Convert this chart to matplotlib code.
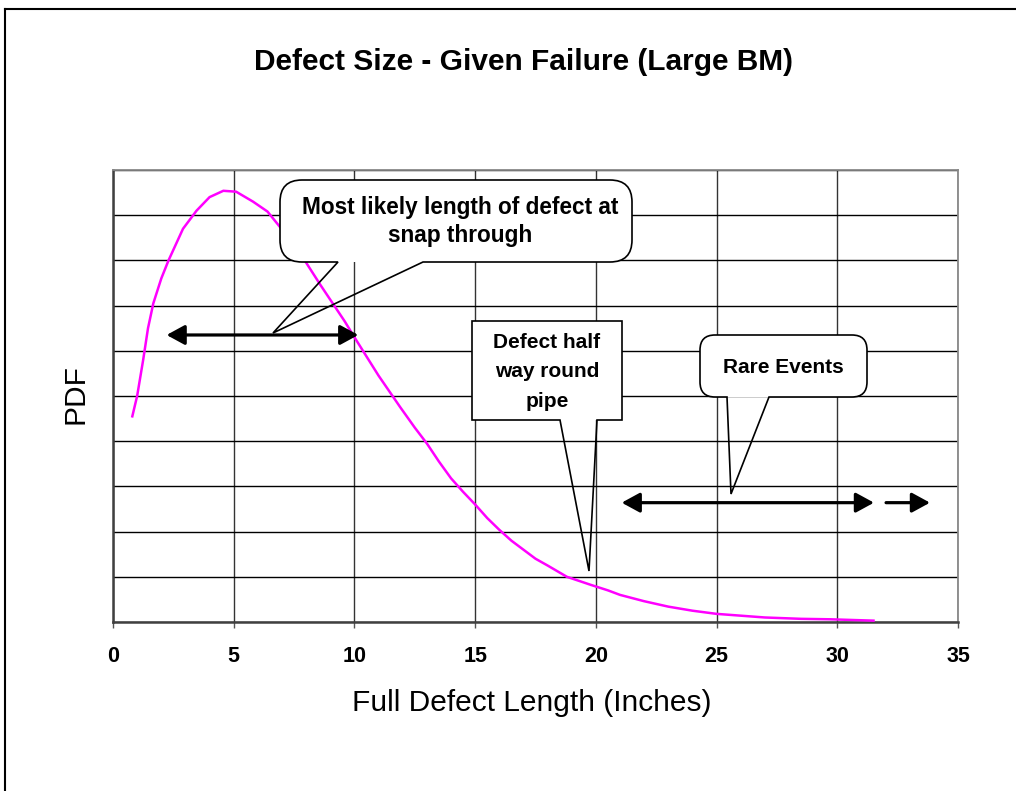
import matplotlib
matplotlib.use('Agg')
import matplotlib.pyplot as plt
import matplotlib.transforms as mtransforms
from matplotlib.path import Path
from matplotlib.patches import PathPatch
from matplotlib.lines import Line2D

plt.rcParams['font.family'] = ['Liberation Sans', 'DejaVu Sans']

# ---------------- data ----------------
defect_length = [0.8, 1.0, 1.25, 1.45, 1.67, 2.0, 2.3, 2.9, 3.46, 4.0, 4.57,
                 5.1, 5.8, 6.4, 6.9, 7.5, 8.0, 8.6, 9.1, 9.6, 10.0, 11.0,
                 11.9, 12.5, 13.0, 13.5, 14.0, 14.5, 15.0, 15.5, 16.0, 16.5,
                 17.0, 17.5, 18.0, 18.8, 19.8, 20.5, 21.0, 22.0, 23.0, 24.0,
                 25.0, 26.0, 27.0, 28.5, 29.7, 31.5]
pdf_values = [4.55, 5.0, 5.8, 6.5, 7.05, 7.6, 8.0, 8.7, 9.1, 9.4, 9.54,
              9.52, 9.3, 9.08, 8.75, 8.35, 7.95, 7.45, 7.05, 6.65, 6.3, 5.45,
              4.75, 4.3, 3.95, 3.55, 3.18, 2.88, 2.6, 2.3, 2.04, 1.8,
              1.6, 1.4, 1.25, 1.0, 0.82, 0.7, 0.6, 0.46, 0.34, 0.25,
              0.18, 0.14, 0.1, 0.07, 0.06, 0.03]
x_ticks = [0, 5, 10, 15, 20, 25, 30, 35]
x_tick_labels = ['0', '5', '10', '15', '20', '25', '30', '35']
y_grid = [0, 1, 2, 3, 4, 5, 6, 7, 8, 9, 10]

title = 'Defect Size - Given Failure (Large BM)'
x_label = 'Full Defect Length (Inches)'
y_label = 'PDF'
callout1_lines = ['Most likely length of defect at', 'snap through']
callout2_lines = ['Defect half', 'way round', 'pipe']
callout3_lines = ['Rare Events']
range_likely = (2.22, 10.16, 6.35)
range_rare = (21.07, 31.52, 2.64)
range_beyond = (32.02, 33.84, 2.64)

# ---------------- figure ----------------
W, H = 1016, 791
fig = plt.figure(figsize=(W / 100, H / 100), dpi=100)
fig.patch.set_facecolor('white')

ax = fig.add_axes([113 / W, 1 - 622 / H, 845 / W, 452 / H])
ax.plot(defect_length, pdf_values, color='#FF00FF', lw=1.8, zorder=3,
        solid_joinstyle='round')
ax.set_xlim(0, 35)
ax.set_ylim(0, 10)
ax.set_xticks(x_ticks)
ax.set_xticklabels(x_tick_labels, fontsize=15.5, fontweight='bold')
ax.set_yticks(y_grid)
ax.set_yticklabels([])
ax.tick_params(axis='y', length=0)
ax.tick_params(axis='x', direction='out', length=4, width=1, color='#555555', pad=13.5)
ax.set_axisbelow(True)
ax.yaxis.grid(True, color='black', lw=1.0)
ax.xaxis.grid(True, color='#333333', lw=1.0)
for s in ['left', 'bottom']:
    ax.spines[s].set_color('#404040')
    ax.spines[s].set_linewidth(1.8)
for s in ['top', 'right']:
    ax.spines[s].set_color('#888888')
    ax.spines[s].set_linewidth(1.3)

# arrows (data coords)
def darrow(x0, x1, y, style):
    ax.annotate('', xy=(x1, y), xytext=(x0, y),
                arrowprops=dict(arrowstyle=style + ',head_length=11,head_width=6',
                                mutation_scale=1, lw=2.3, color='black',
                                shrinkA=0, shrinkB=0),
                zorder=4, annotation_clip=False)

darrow(range_likely[0], range_likely[1], range_likely[2], '<|-|>')
darrow(range_rare[0], range_rare[1], range_rare[2], '<|-|>')
darrow(range_beyond[0], range_beyond[1], range_beyond[2], '-|>')

# ---------------- text ----------------
tr = mtransforms.Affine2D().scale(1, -1).translate(0, H)


def ptext(x, y, s, **kw):
    fig.text(x, y, s, transform=tr, **kw)


ptext(524, 70, title, fontsize=21.5, fontweight='bold', ha='center', va='baseline')
ptext(532, 711, x_label, fontsize=21.5, ha='center', va='baseline')
ptext(84, 394.5, y_label, fontsize=21.5, ha='center', va='baseline',
      rotation=90, rotation_mode='anchor')

# ---------------- callouts ----------------
def callout_paths(x0, y0, x1, y1, r, ba, bb, tip):
    """Return (box path, outline-with-tail path) in image pixel coords."""
    def box_verts(with_tail):
        v, c = [], []
        v += [(x0 + r, y0)]; c += [Path.MOVETO]
        v += [(x1 - r, y0)]; c += [Path.LINETO]
        if r > 0:
            v += [(x1, y0), (x1, y0 + r)]; c += [Path.CURVE3, Path.CURVE3]
        v += [(x1, y1 - r)]; c += [Path.LINETO]
        if r > 0:
            v += [(x1, y1), (x1 - r, y1)]; c += [Path.CURVE3, Path.CURVE3]
        if with_tail:
            v += [(bb, y1), tip, (ba, y1)]; c += [Path.LINETO] * 3
        v += [(x0 + r, y1)]; c += [Path.LINETO]
        if r > 0:
            v += [(x0, y1), (x0, y1 - r)]; c += [Path.CURVE3, Path.CURVE3]
        v += [(x0, y0 + r)]; c += [Path.LINETO]
        if r > 0:
            v += [(x0, y0), (x0 + r, y0)]; c += [Path.CURVE3, Path.CURVE3]
        v += [(x0 + r, y0)]; c += [Path.CLOSEPOLY]
        return Path(v, c)
    return box_verts(False), box_verts(True)


def add_callout(x0, y0, x1, y1, r, ba, bb, tip):
    box, outline = callout_paths(x0, y0, x1, y1, r, ba, bb, tip)
    fig.add_artist(PathPatch(box, transform=tr, facecolor='white',
                             edgecolor='none', zorder=5))
    fig.add_artist(PathPatch(outline, transform=tr, facecolor='none',
                             edgecolor='black', lw=1.2, zorder=6,
                             joinstyle='miter'))


add_callout(280, 180, 632, 262, 22, 338, 423, (273, 333))
add_callout(472, 321, 622, 420, 0, 560, 597, (589, 571))
add_callout(700, 335, 867, 397, 15, 727, 769, (731, 494))

for i, s in enumerate(callout1_lines):
    ptext(460, 214 + 27.7 * i, s, fontsize=16.3, fontweight='bold',
          ha='center', va='baseline', zorder=7)
for i, s in enumerate(callout2_lines):
    ptext(547, 348 + 29.3 * i, s, fontsize=15, fontweight='bold',
          ha='center', va='baseline', zorder=7)
for i, s in enumerate(callout3_lines):
    ptext(783, 372.7, s, fontsize=15, fontweight='bold',
          ha='center', va='baseline', zorder=7)

# page border (left and top edges visible)
fig.add_artist(Line2D([5, 5], [9, H + 5], transform=tr, color='black', lw=1.5))
fig.add_artist(Line2D([5, W + 5], [9, 9], transform=tr, color='black', lw=1.5))

fig.savefig('out.png', dpi=100)
